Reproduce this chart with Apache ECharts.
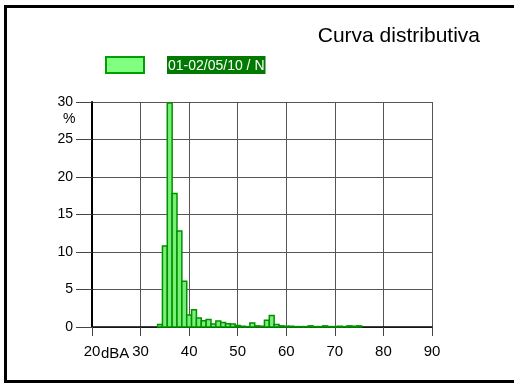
<!DOCTYPE html>
<html lang="it">
<head>
    <meta charset="UTF-8">
    <title>Curva distributiva</title>
    <script src="https://cdn.jsdelivr.net/npm/echarts@6/dist/echarts.min.js"></script>
    <style>
        html, body {
            margin: 0;
            padding: 0;
            background: #fff;
        }
        #main {
            width: 514px;
            height: 383px;
        }
    </style>
</head>
<body>
<div id="main"></div>

<script>
    // livelli in dBA (classi di 1 dB) e percentuale di tempo
    var levels = [34, 35, 36, 37, 38, 39, 40, 41, 42, 43, 44, 45, 46, 47, 48, 49,
        50, 51, 52, 53, 54, 55, 56, 57, 58, 59, 60, 61, 62, 63, 64, 65, 66, 67,
        68, 69, 70, 71, 72, 73, 74, 75];
    var percents = [0.35, 10.8, 34, 17.8, 12.8, 6.1, 1.6, 2.3, 1.2, 0.85, 1.0, 0.4, 0.8, 0.6, 0.45, 0.4,
        0.2, 0.1, 0.05, 0.55, 0.15, 0.1, 0.9, 1.55, 0.35, 0.15, 0.1, 0.1, 0.05, 0.05, 0.05, 0.15, 0.05, 0.05,
        0.15, 0.05, 0.05, 0.1, 0.05, 0.15, 0.1, 0.15];
    var xTicks = [20, 30, 40, 50, 60, 70, 80, 90];
    var yTicks = [0, 5, 10, 15, 20, 25, 30];
    var seriesName = '01-02/05/10 / N';

    var font = "'Liberation Sans', Arial, sans-serif";
    var chart = echarts.init(document.getElementById('main'));

    // ogni barra copre la classe [x-0.5, x+0.5]
    function renderBar(params, api) {
        var x = api.value(0);
        var y = api.value(1);
        var p0 = api.coord([x - 0.5, y]);
        var p1 = api.coord([x + 0.5, 0]);
        var shape = echarts.graphic.clipRectByRect({
            x: p0[0],
            y: p0[1],
            width: p1[0] - p0[0],
            height: p1[1] - p0[1]
        }, {
            x: params.coordSys.x,
            y: params.coordSys.y + 1,
            width: params.coordSys.width,
            height: params.coordSys.height
        });
        if (!shape) return;
        return {
            type: 'rect',
            shape: shape,
            style: {
                fill: '#78f078',
                stroke: '#009000',
                lineWidth: 1.5
            }
        };
    }

    chart.setOption({
        backgroundColor: '#fff',
        animation: false,
        title: {
            text: 'Curva distributiva',
            right: 29,
            top: 21,
            textStyle: {
                fontFamily: font,
                fontSize: 21,
                fontWeight: 'normal',
                color: '#000'
            }
        },
        legend: {
            left: 100,
            top: 51,
            itemWidth: 38,
            itemHeight: 16,
            data: [{
                name: seriesName,
                icon: 'rect',
                itemStyle: {color: '#80ff80', borderColor: '#00a000', borderWidth: 2}
            }],
            formatter: '{s| }{t|{name}}',
            textStyle: {
                rich: {
                    s: {width: 18},
                    t: {
                        fontFamily: font,
                        fontSize: 14,
                        color: '#fff',
                        backgroundColor: '#007a00',
                        padding: [3, 1, 1, 1]
                    }
                }
            }
        },
        grid: {
            left: 92,
            right: 82,
            top: 102,
            bottom: 56
        },
        xAxis: {
            type: 'value',
            min: xTicks[0],
            max: xTicks[xTicks.length - 1],
            interval: 10,
            axisLine: {lineStyle: {color: '#000', width: 1.5}},
            axisTick: {length: 9, lineStyle: {color: '#444'}},
            axisLabel: {
                margin: 17,
                fontFamily: font,
                fontSize: 15,
                color: '#000'
            },
            splitLine: {lineStyle: {color: '#555', width: 1}}
        },
        yAxis: {
            type: 'value',
            min: yTicks[0],
            max: yTicks[yTicks.length - 1],
            interval: 5,
            axisLine: {show: true, lineStyle: {color: '#000', width: 2}},
            axisTick: {show: true, length: 16, lineStyle: {color: '#444'}},
            axisLabel: {
                margin: 19,
                fontFamily: font,
                fontSize: 14,
                color: '#000'
            },
            splitLine: {lineStyle: {color: '#555', width: 1}}
        },
        graphic: [
            {
                type: 'rect',
                silent: true,
                shape: {x: 5.5, y: 6.5, width: 525, height: 375},
                style: {fill: 'none', stroke: '#000', lineWidth: 3}
            },
            {
                type: 'text',
                left: 63,
                top: 112,
                style: {text: '%', font: '14px ' + font, fill: '#000'}
            },
            {
                type: 'text',
                left: 101,
                top: 346,
                style: {text: 'dBA', font: '15px ' + font, fill: '#000'}
            }
        ],
        series: [{
            name: seriesName,
            type: 'custom',
            renderItem: renderBar,
            itemStyle: {color: '#80ff80', borderColor: '#00a000', borderWidth: 2},
            encode: {x: 0, y: 1},
            data: levels.map(function (lv, i) {
                return [lv, percents[i]];
            }),
            z: 5
        }]
    });
</script>
</body>
</html>
